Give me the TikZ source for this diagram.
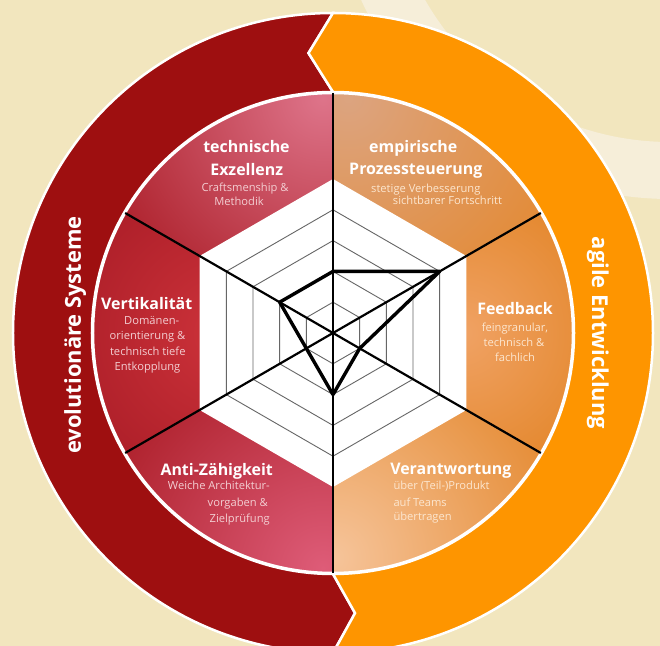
\documentclass[tikz,border=0pt]{standalone}
\usepackage{fontspec}
\setmainfont{Open Sans}
\definecolor{bg}{HTML}{F2E6BE}
\definecolor{bgband}{HTML}{F6EED9}
\definecolor{ringred}{HTML}{9E0F10}
\definecolor{ringorange}{HTML}{FE9500}
\definecolor{redtext}{HTML}{F3CED2}
\definecolor{ortext}{HTML}{FCE6CF}
\definecolor{sectred}{RGB}{172,30,40}
\definecolor{sectorange}{RGB}{228,136,46}
\begin{document}
\begin{tikzpicture}[x=1bp,y=1bp,
  title/.style={font=\bfseries\fontsize{16}{18}\selectfont, text=white, inner sep=0pt, text height=12.3bp, text depth=3.7bp},
  body/.style={font=\fontsize{11.2}{13}\selectfont, inner sep=0pt, text height=9bp, text depth=3bp},
  bodyred/.style={body, text=redtext},
  bodyor/.style={body, text=ortext},
  ringtext/.style={font=\bfseries\fontsize{22}{26}\selectfont, text=white, inner sep=0pt, text height=16bp, text depth=4.2bp},
  axisline/.style={line width=2.2bp, draw=black},
  web/.style={line width=0.9bp, draw=black!60},
  spider/.style={line width=3.4bp, draw=black, line join=round},
  ringseam/.style={draw=white, line width=2.5bp, line join=miter}
]
\useasboundingbox (-333,-313) rectangle (327,333);
\clip (-333,-313) rectangle (327,333);
\fill[bg] (-333,-313) rectangle (327,333);
\fill[bgband, even odd rule] (337,473) circle[radius=339] (337,473) circle[radius=282];

% outer ring: two arrows
\filldraw[fill=ringred, ringseam] (90:320) arc[start angle=90, end angle=270, radius=320]
  -- (274.5:281) -- (270:241) arc[start angle=270, end angle=90, radius=241]
  -- (95:281) -- cycle;
\filldraw[fill=ringorange, ringseam] (-90:320) arc[start angle=-90, end angle=90, radius=320]
  -- (95:281) -- (90:241) arc[start angle=90, end angle=-90, radius=241]
  -- (274.5:281) -- cycle;

% base fills of the disc halves
\fill[sectred] (90:240) arc[start angle=90, end angle=270, radius=240] -- cycle;
\fill[sectorange] (-90:240) arc[start angle=-90, end angle=90, radius=240] -- cycle;

% sectors
\begin{scope}
  \clip (0,0) -- (90:240) arc[start angle=90, end angle=150, radius=240] -- cycle;
  \shade[inner color={rgb,255:red,222;green,116;blue,138}, outer color=sectred] (-10,235) circle[radius=250];
\end{scope}
\begin{scope}
  \clip (0,0) -- (150:240) arc[start angle=150, end angle=210, radius=240] -- cycle;
  \shade[inner color={rgb,255:red,204;green,50;blue,58}, outer color=sectred] (-110,0) circle[radius=170];
\end{scope}
\begin{scope}
  \clip (0,0) -- (210:240) arc[start angle=210, end angle=270, radius=240] -- cycle;
  \shade[inner color={rgb,255:red,222;green,92;blue,120}, outer color=sectred] (-10,-235) circle[radius=250];
\end{scope}
\begin{scope}
  \clip (0,0) -- (30:240) arc[start angle=30, end angle=90, radius=240] -- cycle;
  \shade[inner color={rgb,255:red,220;green,164;blue,128}, outer color=sectorange] (15,235) circle[radius=260];
\end{scope}
\begin{scope}
  \clip (0,0) -- (-30:240) arc[start angle=-30, end angle=30, radius=240] -- cycle;
  \shade[inner color={rgb,255:red,240;green,162;blue,100}, outer color=sectorange] (130,0) circle[radius=150];
\end{scope}
\begin{scope}
  \clip (0,0) -- (-90:240) arc[start angle=-90, end angle=-30, radius=240] -- cycle;
  \shade[inner color={rgb,255:red,246;green,196;blue,154}, outer color=sectorange] (0,-225) circle[radius=260];
\end{scope}
\draw[white, line width=2.5bp] (0,0) circle[radius=240];

% hexagon web
\fill[white] (90:154) -- (30:154) -- (-30:154) -- (-90:154) -- (210:154) -- (150:154) -- cycle;
\foreach \k in {1,2,3,4}{
  \draw[web] (90:30.8*\k) -- (30:30.8*\k) -- (-30:30.8*\k) -- (-90:30.8*\k) -- (210:30.8*\k) -- (150:30.8*\k) -- cycle;
}

% axes
\coordinate (O) at (0,0);
\coordinate (a90) at (90:240);
\coordinate (a30) at (30:240);
\coordinate (am30) at (-30:240);
\coordinate (am90) at (-90:240);
\coordinate (a210) at (210:240);
\coordinate (a150) at (150:240);
\draw[axisline, line width=2.6bp] (a90) -- (am90);
\draw[axisline] (O) -- (a30);
\draw[axisline] (O) -- (am30);
\draw[axisline] (O) -- (a210);
\draw[axisline] (O) -- (a150);

% spider polygon
\coordinate (p1) at (90:61.6);
\coordinate (p2) at (30:123.2);
\coordinate (p3) at (-30:30.8);
\coordinate (p4) at (-90:61.6);
\coordinate (p5) at (210:30.8);
\coordinate (p6) at (150:61.6);
\draw[spider] (p1) -- (p2) -- (p3) -- (p4) -- (p5) -- (p6) -- cycle;

% ring texts
\node[ringtext, rotate=90] (evo) at (-258,-2) {evolutionäre Systeme};
\node[ringtext, rotate=-90] (agile) at (265,0) {agile Entwicklung};

% sector texts in image coordinates
\begin{scope}[shift={(-333,333)}, y=-1bp]
  \node[title] (tea) at (246.5,148.3) {technische};
  \node[title] (teb) at (246.7,171.7) {Exzellenz};
  \node[bodyred] (tec) at (245,188.3) {Craftsmenship \&};
  \node[bodyred] (ted) at (239,202.7) {Methodik};

  \node[title] (vea) at (146.7,305) {Vertikalität};
  \node[bodyred] (veb) at (151.7,321.7) {Domänen-};
  \node[bodyred] (vec) at (147.5,336.7) {orientierung \&};
  \node[bodyred] (ved) at (147.8,352.7) {technisch tiefe};
  \node[bodyred] (vee) at (147.5,367.3) {Entkopplung};

  \node[title] (ana) at (216.7,470.7) {Anti-Zähigkeit};
  \node[bodyred, anchor=east] (anb) at (270,486.7) {Weiche Architektur-};
  \node[bodyred, anchor=east] (anc) at (268,503.3) {vorgaben \&};
  \node[bodyred, anchor=east] (and) at (270,519.3) {Zielprüfung};

  \node[title] (ema) at (413.3,148.3) {empirische};
  \node[title] (emb) at (415.8,170.7) {Prozessteuerung};
  \node[bodyor] (emc) at (425.8,189.3) {stetige Verbesserung};
  \node[bodyor] (emd) at (447.5,201.7) {sichtbarer Fortschritt};

  \node[title] (fea) at (515,310.7) {Feedback};
  \node[bodyor] (feb) at (515,328.3) {feingranular,};
  \node[bodyor] (fec) at (514,344) {technisch \&};
  \node[bodyor] (fed) at (515,358.3) {fachlich};

  \node[title] (vra) at (450.8,470) {Verantwortung};
  \node[bodyor, anchor=west] (vrb) at (393.3,486.7) {über (Teil-)Produkt};
  \node[bodyor, anchor=west] (vrc) at (393.3,503.3) {auf Teams};
  \node[bodyor, anchor=west] (vrd) at (393.3,517.7) {übertragen};
\end{scope}
\end{tikzpicture}
\end{document}
